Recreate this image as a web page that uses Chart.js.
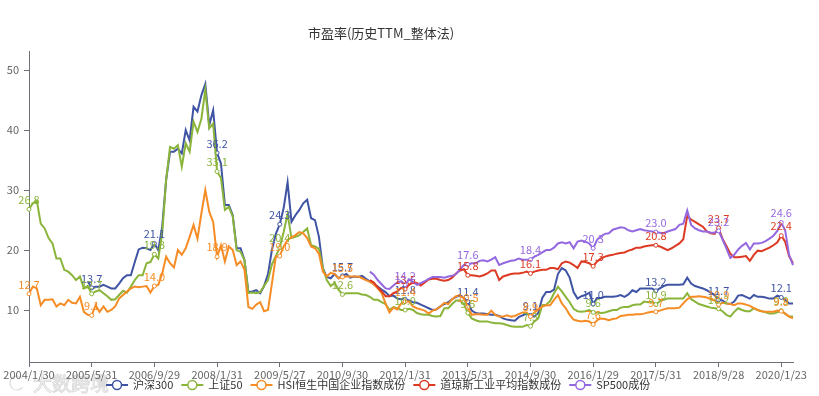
<!DOCTYPE html>
<html>
<head>
<meta charset="utf-8">
<script src="https://cdn.jsdelivr.net/npm/chart.js@4.4.1/dist/chart.umd.min.js"></script>
<style>
  html, body { margin: 0; padding: 0; background: #fff; }
  #wrap { width: 819px; height: 396px; }
</style>
</head>
<body>
<div id="wrap"><canvas id="peChart" width="819" height="396"></canvas></div>
<script>
const chartTitle = '市盈率(历史TTM_整体法)';
const tickLabels = ['2004/1/30', '2005/5/31', '2006/9/29', '2008/1/31', '2009/5/27', '2010/9/30', '2012/1/31',
  '2013/5/31', '2014/9/30', '2016/1/29', '2017/5/31', '2018/9/28', '2020/1/23'];
const yTicks = [10, 20, 30, 40, 50];
const seriesNames = ['沪深300', '上证50', 'HSI恒生中国企业指数成份', '道琼斯工业平均指数成份', 'SP500成份'];
const seriesColors = ['#3f54a4', '#8ab43a', '#f68c25', '#dd3a23', '#9468e0'];

const hs300 = [null, null, null, null, null, null, null, null, null, null,
  null, null, null, null, null, 14.8, 13.7, 13.9, 13.9, 14.2,
  13.9, 13.6, 13.6, 14.4, 15.3, 15.8, 15.8, 18.0, 20.1, 20.4,
  20.3, 20.0, 21.1, 20.0, 23.9, 31.7, 36.4, 36.4, 36.9, 36.1,
  40.0, 38.3, 43.9, 43.1, 45.8, 47.7, 40.8, 43.3, 36.2, 34.4,
  27.5, 27.5, 25.8, 20.3, 20.3, 18.3, 13.0, 13.1, 13.3, 12.8,
  14.0, 16.0, 20.0, 22.7, 24.3, 27.0, 31.3, 24.7, 25.8, 26.7,
  27.8, 28.4, 25.3, 25.0, 22.2, 17.0, 15.5, 15.3, 16.0, 15.3,
  15.7, 16.0, 15.4, 15.6, 15.5, 15.7, 15.2, 14.8, 14.3, 13.9,
  13.4, 13.0, 12.3, 12.4, 11.9, 11.8, 11.8, 11.6, 11.3, 11.2,
  10.9, 10.6, 10.3, 10.0, 10.1, 10.6, 11.0, 11.3, 11.8, 12.2,
  12.4, 12.0, 11.4, 9.9, 9.5, 9.4, 9.4, 9.3, 9.2, 9.2,
  9.0, 8.6, 8.4, 8.3, 8.2, 8.8, 9.1, 9.4, 9.1, 8.9,
  9.5, 12.0, 13.0, 13.0, 13.4, 16.0, 17.0, 16.6, 15.4, 13.0,
  11.9, 12.3, 12.5, 12.9, 11.0, 12.0, 12.0, 12.2, 12.2, 12.2,
  12.3, 12.5, 12.2, 12.6, 13.3, 13.0, 13.6, 13.6, 13.6, 13.6,
  13.2, 13.6, 14.0, 14.2, 14.2, 14.2, 14.2, 14.3, 15.4, 14.4,
  14.0, 13.8, 13.6, 13.3, 12.9, 12.5, 11.7, 11.6, 11.1, 11.0,
  11.4, 12.4, 12.5, 12.2, 11.9, 12.5, 12.2, 12.2, 12.1, 11.9,
  11.9, 12.4, 12.1, 11.7, 11.1, 11.1];

const sz50 = [26.8, 27.8, 28.2, 24.4, 23.6, 22.0, 21.1, 18.6, 18.6, 16.7,
  16.4, 15.8, 15.0, 15.6, 13.6, 14.0, 12.7, 13.1, 13.3, 12.8,
  12.3, 11.7, 11.8, 12.5, 13.2, 12.9, 13.9, 15.0, 15.8, 15.8,
  17.8, 18.0, 19.3, 18.6, 22.8, 31.7, 37.2, 36.9, 37.5, 33.9,
  37.8, 36.4, 41.4, 39.7, 41.9, 46.7, 40.3, 41.1, 33.1, 32.0,
  26.7, 27.2, 25.6, 20.0, 19.7, 18.3, 12.8, 12.9, 12.8, 13.0,
  14.0, 15.0, 17.6, 19.0, 20.4, 23.0, 26.0, 22.0, 22.2, 22.5,
  23.0, 23.6, 20.8, 20.6, 20.2, 17.0, 15.0, 14.0, 14.5, 13.4,
  12.6, 12.8, 12.8, 12.8, 12.8, 12.6, 12.5, 12.2, 11.7, 11.7,
  11.3, 11.0, 10.0, 10.5, 10.3, 10.0, 10.0, 10.2, 10.0, 9.5,
  9.3, 9.2, 9.2, 9.0, 8.9, 9.0, 10.3, 10.3, 11.0, 11.6,
  11.6, 11.0, 9.5, 8.6, 8.3, 8.1, 8.1, 8.1, 7.9, 7.8,
  7.8, 7.7, 7.5, 7.3, 7.2, 7.2, 7.2, 7.5, 7.3, 8.1,
  8.6, 10.8, 10.9, 11.5, 12.8, 13.9, 13.1, 12.2, 11.3, 10.2,
  9.8, 9.7, 9.8, 10.0, 9.6, 9.6, 9.5, 9.6, 9.8, 10.0,
  10.0, 10.4, 10.5, 10.5, 10.8, 10.9, 10.9, 11.4, 11.3, 11.4,
  10.9, 11.5, 11.7, 11.9, 11.9, 11.9, 11.9, 11.9, 12.8, 11.8,
  11.4, 11.0, 10.8, 10.6, 10.4, 10.3, 10.2, 9.8, 9.2, 8.9,
  9.7, 10.3, 10.0, 9.8, 9.8, 10.3, 10.0, 9.8, 9.6, 9.4,
  9.4, 9.6, 9.9, 9.4, 8.9, 8.9];

const hsce = [12.7, 13.9, 13.6, 10.8, 11.7, 11.7, 11.8, 10.6, 11.1, 10.8,
  11.7, 11.2, 11.1, 12.2, 9.7, 9.2, 9.1, 10.8, 9.7, 10.6,
  9.7, 10.0, 10.6, 11.9, 12.5, 13.1, 13.6, 13.9, 13.8, 13.9,
  14.0, 12.9, 14.0, 14.2, 16.1, 18.9, 17.8, 17.1, 20.0, 19.2,
  20.3, 22.2, 24.2, 21.9, 26.1, 30.0, 26.4, 24.7, 18.9, 20.8,
  18.1, 20.6, 20.0, 17.5, 18.1, 16.7, 10.5, 10.2, 10.9, 11.3,
  9.8, 10.0, 14.4, 18.9, 19.0, 20.6, 21.7, 22.1, 22.5, 23.0,
  22.8, 22.0, 20.6, 20.3, 19.4, 16.4, 15.6, 16.2, 16.0, 15.3,
  15.5, 15.6, 15.6, 15.6, 15.6, 15.3, 15.0, 14.7, 14.3, 13.6,
  12.8, 11.1, 9.6, 10.4, 10.1, 11.1, 11.4, 11.4, 10.6, 10.3,
  10.1, 9.9, 9.4, 9.9, 10.1, 10.6, 11.2, 11.0, 11.8, 12.3,
  12.5, 11.9, 10.5, 9.2, 9.3, 9.3, 9.2, 9.2, 9.9, 9.2,
  8.9, 8.9, 9.1, 8.9, 9.0, 9.3, 9.6, 9.6, 8.9, 9.6,
  10.1, 10.6, 10.8, 10.8, 11.7, 12.5, 11.1, 10.3, 9.2, 8.4,
  8.2, 8.1, 8.2, 8.1, 7.6, 8.3, 8.6, 8.5, 8.3, 8.5,
  8.6, 9.0, 9.1, 9.2, 9.2, 9.3, 9.3, 9.4, 9.6, 9.7,
  9.7, 9.9, 10.1, 10.3, 10.3, 10.3, 10.4, 11.1, 11.8, 12.2,
  12.2, 12.3, 12.2, 12.1, 11.8, 11.6, 10.9, 11.2, 11.1, 11.0,
  10.8, 11.1, 11.1, 10.9, 10.7, 10.3, 10.0, 9.8, 9.7, 9.7,
  9.7, 9.9, 9.8, 9.4, 8.9, 8.6];

const dji = [null, null, null, null, null, null, null, null, null, null,
  null, null, null, null, null, null, null, null, null, null,
  null, null, null, null, null, null, null, null, null, null,
  null, null, null, null, null, null, null, null, null, null,
  null, null, null, null, null, null, null, null, null, null,
  null, null, null, null, null, null, null, null, null, null,
  null, null, null, null, null, null, null, null, null, null,
  null, null, null, null, null, null, null, null, null, null,
  null, null, null, null, null, null, null, 15.0, 14.6, 13.8,
  13.1, 12.3, 12.3, 12.8, 13.1, 13.7, 13.5, 14.2, 14.6, 14.5,
  14.1, 14.6, 15.1, 15.2, 15.2, 15.0, 14.9, 15.0, 15.4, 16.1,
  16.6, 16.8, 15.8, 15.8, 15.7, 15.6, 15.8, 16.1, 16.6, 16.6,
  15.0, 15.6, 15.8, 16.0, 16.1, 16.1, 16.2, 16.4, 16.1, 16.4,
  16.6, 16.7, 16.7, 17.0, 17.0, 16.8, 17.8, 18.1, 17.9, 17.5,
  17.0, 18.1, 18.0, 17.8, 17.3, 18.1, 18.6, 18.9, 19.1, 19.2,
  19.4, 19.5, 19.6, 19.9, 20.1, 20.4, 20.4, 20.6, 20.7, 20.8,
  20.8, 20.6, 20.3, 20.0, 20.3, 20.7, 21.1, 21.8, 25.7, 25.1,
  24.7, 24.3, 23.9, 23.1, 22.8, 22.7, 23.7, 21.9, 20.7, 19.4,
  18.8, 18.8, 18.9, 19.0, 18.2, 19.2, 19.9, 19.8, 20.1, 20.4,
  20.8, 21.3, 22.4, 21.4, 19.0, 17.8];

const spx = [null, null, null, null, null, null, null, null, null, null,
  null, null, null, null, null, null, null, null, null, null,
  null, null, null, null, null, null, null, null, null, null,
  null, null, null, null, null, null, null, null, null, null,
  null, null, null, null, null, null, null, null, null, null,
  null, null, null, null, null, null, null, null, null, null,
  null, null, null, null, null, null, null, null, null, null,
  null, null, null, null, null, null, null, null, null, null,
  null, null, null, null, null, null, null, 16.4, 15.9, 15.0,
  14.3, 13.6, 13.5, 14.1, 14.6, 14.8, 14.2, 15.1, 14.7, 14.2,
  14.5, 14.8, 15.2, 15.5, 15.5, 15.5, 15.4, 15.6, 15.7, 16.0,
  16.8, 17.5, 17.6, 17.8, 17.8, 18.2, 18.3, 18.1, 18.4, 18.8,
  17.5, 17.8, 18.0, 18.2, 18.3, 18.6, 18.4, 18.4, 18.4, 18.9,
  19.2, 19.6, 20.0, 20.0, 20.4, 21.1, 21.3, 21.1, 21.3, 20.3,
  21.4, 21.6, 21.4, 21.1, 20.3, 21.7, 22.3, 22.7, 22.8, 23.4,
  23.6, 23.8, 23.7, 23.3, 23.1, 23.3, 23.5, 23.3, 23.2, 23.1,
  23.0, 22.9, 22.8, 23.1, 23.3, 23.5, 24.2, 24.4, 26.6, 24.2,
  23.6, 23.3, 23.1, 23.1, 22.9, 22.9, 23.2, 21.8, 20.3, 18.7,
  19.2, 20.1, 20.7, 21.2, 20.1, 21.1, 21.1, 21.2, 21.5, 21.9,
  22.4, 23.2, 24.6, 23.3, 19.2, 17.5];

const LABEL_STEP = 16;
const FONT = '"Noto Sans CJK SC", "Noto Sans", sans-serif';

// monthly categories, the shown ones use the real trading dates
const categories = [];
for (let i = 0; i < hs300.length; i++) {
    if (i % LABEL_STEP === 0) {
        categories.push(tickLabels[i / LABEL_STEP]);
    } else {
        categories.push(`${2004 + Math.floor(i / 12)}/${(i % 12) + 1}`);
    }
}

const seriesData = [hs300, sz50, hsce, dji, spx];

const valueLabels = {
    id: 'valueLabels',
    afterDatasetsDraw(chart) {
        const ctx = chart.ctx;
        ctx.save();
        ctx.font = `11px ${FONT}`;
        ctx.textAlign = 'center';
        ctx.textBaseline = 'bottom';
        chart.data.datasets.forEach((ds, di) => {
            const meta = chart.getDatasetMeta(di);
            meta.data.forEach((pt, i) => {
                const v = ds.data[i];
                if (i % LABEL_STEP !== 0 || v == null) return;
                ctx.fillStyle = ds.borderColor;
                ctx.fillText(v.toFixed(1), pt.x, pt.y - 4);
            });
        });
        ctx.restore();
    }
};

const decorations = {
    id: 'decorations',
    beforeDraw(chart) {
        const ctx = chart.ctx;
        ctx.save();
        ctx.fillStyle = '#fff';
        ctx.fillRect(0, 0, chart.width, chart.height);
        // faint watermark
        ctx.strokeStyle = '#dcdcdc';
        ctx.lineWidth = 1.2;
        ctx.beginPath();
        ctx.arc(17, 383, 7, 0.7, Math.PI * 2 - 0.7);
        ctx.stroke();
        ctx.font = `19px ${FONT}`;
        ctx.textBaseline = 'middle';
        ctx.lineWidth = 1;
        ctx.strokeText('大数跨境', 33, 384);
        ctx.restore();
    },
    afterDraw(chart) {
        const ctx = chart.ctx;
        ctx.save();
        ctx.fillStyle = '#333';
        ctx.font = `13px ${FONT}`;
        ctx.textAlign = 'center';
        ctx.textBaseline = 'middle';
        ctx.fillText(chartTitle, 381, 33);

        // legend: line + hollow circle, then name
        ctx.font = `11px ${FONT}`;
        ctx.textAlign = 'left';
        let x = 106;
        const y = 385;
        seriesNames.forEach((name, i) => {
            ctx.strokeStyle = seriesColors[i];
            ctx.lineWidth = 2;
            ctx.beginPath();
            ctx.moveTo(x, y);
            ctx.lineTo(x + 22, y);
            ctx.stroke();
            ctx.beginPath();
            ctx.arc(x + 11, y, 4.5, 0, Math.PI * 2);
            ctx.fillStyle = '#fff';
            ctx.fill();
            ctx.lineWidth = 1.5;
            ctx.stroke();
            ctx.fillStyle = '#333';
            ctx.fillText(name, x + 27, y);
            x += 27 + ctx.measureText(name).width + 8;
        });
        ctx.restore();
    }
};

const datasets = seriesData.map((data, i) => ({
    label: seriesNames[i],
    data: data,
    borderColor: seriesColors[i],
    backgroundColor: seriesColors[i],
    borderWidth: 2,
    tension: 0,
    spanGaps: false,
    order: seriesData.length - i,
    pointRadius: ctx => (ctx.dataIndex % LABEL_STEP === 0 ? 2 : 0),
    pointHoverRadius: 0,
    pointBackgroundColor: '#fff',
    pointBorderColor: seriesColors[i],
    pointBorderWidth: 1
}));

new Chart(document.getElementById('peChart'), {
    type: 'line',
    data: { labels: categories, datasets: datasets },
    options: {
        responsive: false,
        devicePixelRatio: 1,
        animation: false,
        layout: { padding: { top: 51, right: 26, bottom: 0, left: 0 } },
        plugins: {
            legend: { display: false },
            title: { display: false },
            tooltip: { enabled: false }
        },
        scales: {
            x: {
                type: 'category',
                offset: false,
                afterBuildTicks: scale => {
                    scale.ticks = scale.ticks.filter(t => t.value % LABEL_STEP === 0);
                },
                afterFit: scale => { scale.height = 34; },
                grid: { drawOnChartArea: false, drawTicks: true, tickLength: 5, color: '#6E7079' },
                border: { color: '#6E7079', width: 1 },
                ticks: {
                    autoSkip: false,
                    maxRotation: 0,
                    padding: 1,
                    color: '#666',
                    font: { size: 11, family: FONT }
                }
            },
            y: {
                min: 1.33,
                max: 53.2,
                afterBuildTicks: scale => {
                    scale.ticks = yTicks.map(v => ({ value: v }));
                },
                afterFit: scale => { scale.width = 29; },
                grid: { drawOnChartArea: false, drawTicks: true, tickLength: 5, color: '#6E7079' },
                border: { color: '#6E7079', width: 1 },
                ticks: {
                    padding: 5,
                    color: '#666',
                    font: { size: 11, family: FONT }
                }
            }
        }
    },
    plugins: [decorations, valueLabels]
});
</script>
</body>
</html>
